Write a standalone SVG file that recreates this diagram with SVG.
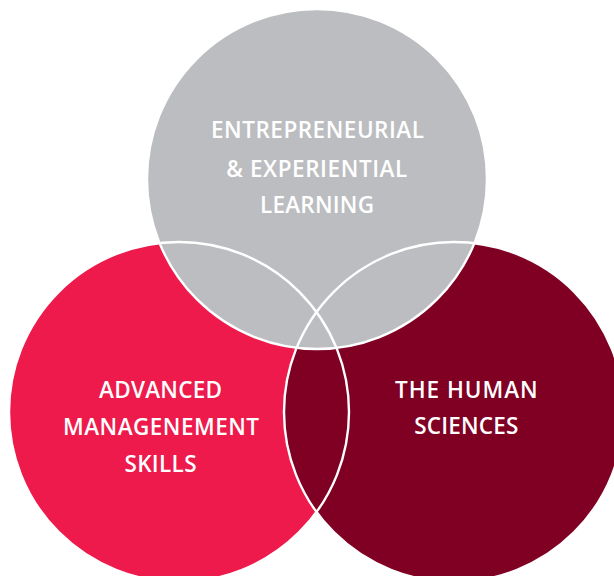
<svg xmlns="http://www.w3.org/2000/svg" width="614" height="576" viewBox="0 0 614 576">
  <style>
    .lbl { font-family: "Open Sans", "Noto Sans", "Liberation Sans", sans-serif; font-weight: 600; font-size: 22.5px; fill: #ffffff; text-anchor: middle; }
    .outline { fill: none; stroke: #ffffff; stroke-width: 2.4; }
  </style>
  <rect width="614" height="576" fill="#ffffff"/>
  <g id="node-advanced-management">
    <circle cx="179" cy="412" r="170" fill="#ED1A4B"/>
    <text class="lbl" x="160.5" y="397.7" textLength="123" lengthAdjust="spacing">ADVANCED</text>
    <text class="lbl" x="161" y="435" textLength="196" lengthAdjust="spacing">MANAGENEMENT</text>
    <text class="lbl" x="160.5" y="471.7" textLength="72" lengthAdjust="spacing">SKILLS</text>
  </g>
  <g id="node-human-sciences">
    <circle cx="454" cy="412" r="170" fill="#800024"/>
    <text class="lbl" x="466.3" y="397.7" textLength="142.7" lengthAdjust="spacing">THE HUMAN</text>
    <text class="lbl" x="466.3" y="434.3" textLength="104" lengthAdjust="spacing">SCIENCES</text>
  </g>
  <g id="node-entrepreneurial">
    <circle cx="317" cy="179" r="170" fill="#BCBDC0"/>
    <text class="lbl" x="317.5" y="137.6" textLength="213" lengthAdjust="spacing">ENTREPRENEURIAL</text>
    <text class="lbl" x="316.8" y="176.6" textLength="181" lengthAdjust="spacing">&amp; EXPERIENTIAL</text>
    <text class="lbl" x="317" y="213.2" textLength="114" lengthAdjust="spacing">LEARNING</text>
  </g>
  <g id="connectors">
    <circle class="outline" cx="179" cy="412" r="170"/>
    <circle class="outline" cx="454" cy="412" r="170"/>
    <circle class="outline" cx="317" cy="179" r="170"/>
  </g>
</svg>
